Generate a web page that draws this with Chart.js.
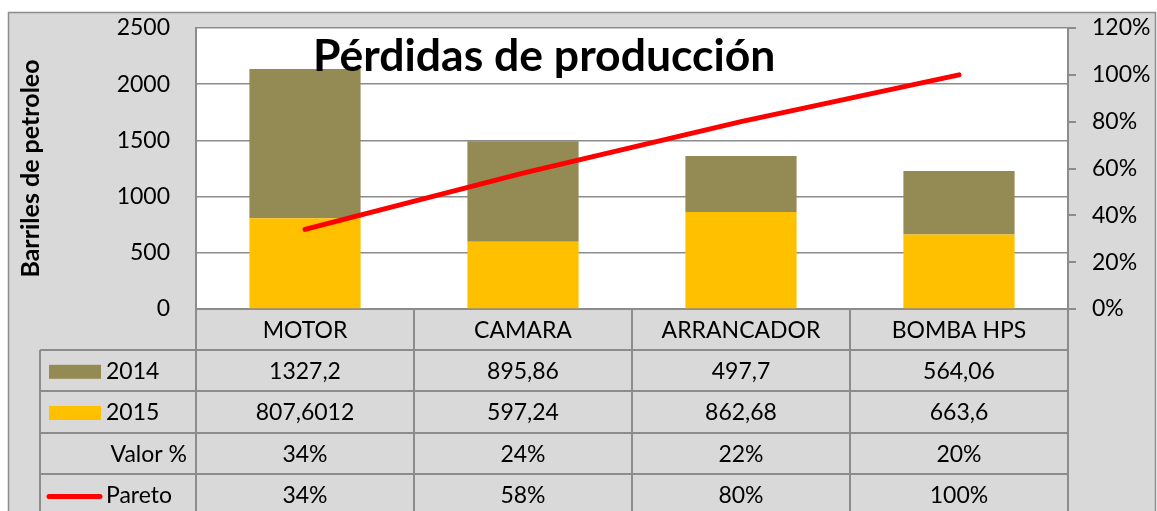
<!DOCTYPE html>
<html>
<head>
<meta charset="utf-8">
<script src="https://cdn.jsdelivr.net/npm/chart.js@4.4.1/dist/chart.umd.min.js"></script>
<style>
  html, body { margin: 0; padding: 0; background: #fff; }
  canvas { display: block; }
</style>
</head>
<body>
<canvas id="paretoChart" width="1157" height="511"></canvas>
<script>
const categorias = ['MOTOR', 'CAMARA', 'ARRANCADOR', 'BOMBA HPS'];
const perdidas2014 = [1327.2, 895.86, 497.7, 564.06];
const perdidas2015 = [807.6012, 597.24, 862.68, 663.6];
const valorPct = [34, 24, 22, 20];
const pareto = [34, 58, 80, 100];

const GRIS = '#8C8C8C';
const FUENTE = 'Lato, "Liberation Sans", sans-serif';

function coma(v) {
    return String(v).replace('.', ',');
}

const tablaPlugin = {
    id: 'tabla',
    beforeDraw(chart) {
        const { ctx, chartArea: a } = chart;
        ctx.save();
        ctx.fillStyle = '#fff';
        ctx.fillRect(0, 0, chart.width, chart.height);
        ctx.fillStyle = '#D9D9D9';
        ctx.fillRect(8, 12, 1148, 520);
        ctx.strokeStyle = GRIS;
        ctx.lineWidth = 1.5;
        ctx.strokeRect(8.5, 12.5, 1147, 520);
        ctx.fillStyle = '#fff';
        ctx.fillRect(a.left, a.top, a.right - a.left, a.bottom - a.top);
        ctx.restore();
    },
    afterDraw(chart) {
        const { ctx, chartArea: a } = chart;
        const x = chart.scales.x;
        const paso = x.getPixelForValue(1) - x.getPixelForValue(0);
        const filaH = 41.2;
        const top = a.bottom;
        const izq = 40;
        ctx.save();

        // titulo
        ctx.fillStyle = '#000';
        ctx.font = 'bold 44.5px ' + FUENTE;
        ctx.textAlign = 'left';
        ctx.textBaseline = 'alphabetic';
        ctx.fillText('Pérdidas de producción', 313, 71);

        // lineas de la tabla
        ctx.strokeStyle = GRIS;
        ctx.lineWidth = 2;
        ctx.beginPath();
        for (let r = 1; r <= 4; r++) {
            const y = Math.round(top + r * filaH);
            ctx.moveTo(izq, y);
            ctx.lineTo(a.right, y);
        }
        ctx.moveTo(izq, Math.round(top + filaH));
        ctx.lineTo(izq, chart.height);
        for (let i = 0; i <= categorias.length; i++) {
            const xx = Math.round(x.getPixelForValue(0) - paso / 2 + i * paso);
            ctx.moveTo(xx, top);
            ctx.lineTo(xx, chart.height);
        }
        ctx.stroke();

        // textos
        const filas = [
            categorias,
            perdidas2014.map(coma),
            perdidas2015.map(coma),
            valorPct.map(v => v + '%'),
            pareto.map(v => v + '%')
        ];
        ctx.font = '23px ' + FUENTE;
        ctx.fillStyle = '#000';
        ctx.textBaseline = 'middle';
        ctx.textAlign = 'center';
        filas.forEach((fila, r) => {
            const yc = top + r * filaH + filaH / 2 + 1;
            fila.forEach((t, i) => {
                ctx.fillText(t, x.getPixelForValue(i), yc);
            });
        });

        // leyenda en la tabla
        const ds = chart.data.datasets;
        const yc = r => top + r * filaH + filaH / 2 + 1;
        ctx.textAlign = 'left';
        ctx.fillStyle = ds[2].backgroundColor;
        ctx.fillRect(49, yc(1) - 7, 52, 14);
        ctx.fillStyle = ds[1].backgroundColor;
        ctx.fillRect(49, yc(2) - 7, 52, 14);
        ctx.fillStyle = '#000';
        ctx.fillText(ds[2].label, 106, yc(1));
        ctx.fillText(ds[1].label, 106, yc(2));
        ctx.textAlign = 'right';
        ctx.fillText('Valor %', 187, yc(3));
        ctx.textAlign = 'left';
        ctx.fillText(ds[0].label, 106, yc(4));
        ctx.strokeStyle = ds[0].borderColor;
        ctx.lineWidth = 5;
        ctx.lineCap = 'round';
        ctx.beginPath();
        ctx.moveTo(49, yc(4) + 1);
        ctx.lineTo(100, yc(4) + 1);
        ctx.stroke();
        ctx.restore();
    }
};

new Chart(document.getElementById('paretoChart'), {
    data: {
        labels: categorias,
        datasets: [
            {
                type: 'line', label: 'Pareto', data: pareto, yAxisID: 'y1',
                borderColor: '#FF0000', borderWidth: 5, borderCapStyle: 'round',
                pointRadius: 0, fill: false, tension: 0
            },
            {
                type: 'bar', label: '2015', data: perdidas2015, yAxisID: 'y',
                backgroundColor: '#FFC000', stack: 'a',
                categoryPercentage: 1, barPercentage: 0.51
            },
            {
                type: 'bar', label: '2014', data: perdidas2014, yAxisID: 'y',
                backgroundColor: '#948A54', stack: 'a',
                categoryPercentage: 1, barPercentage: 0.51
            }
        ]
    },
    options: {
        responsive: false,
        animation: false,
        layout: { padding: { top: 28, bottom: 202, left: 0, right: 0 } },
        plugins: {
            legend: { display: false },
            tooltip: { enabled: false }
        },
        scales: {
            x: {
                stacked: true,
                grid: { display: false },
                ticks: { display: false },
                border: { display: true, color: GRIS, width: 2 },
                afterFit: s => { s.height = 0; }
            },
            y: {
                stacked: true,
                position: 'left',
                min: 0, max: 2500,
                ticks: { stepSize: 500, padding: 0, color: '#000',
                    font: { family: FUENTE, size: 23, lineHeight: 1 },
                    callback: v => String(v) },
                grid: { color: GRIS, lineWidth: 1.5, drawTicks: true, tickLength: 26,
                    tickColor: 'rgba(0,0,0,0)' },
                border: { display: true, color: GRIS, width: 2 },
                title: {
                    display: true, text: 'Barriles de petroleo', color: '#000',
                    font: { family: FUENTE, size: 25, weight: 'bold' },
                    padding: { top: 16, bottom: 0 }
                },
                afterFit: s => { s.width = 196; }
            },
            y1: {
                position: 'right',
                min: 0, max: 120,
                ticks: { stepSize: 20, padding: 16, color: '#000',
                    font: { family: FUENTE, size: 23, lineHeight: 1 },
                    callback: v => v + '%' },
                grid: { drawOnChartArea: false, color: GRIS, tickLength: 8, lineWidth: 2 },
                border: { display: true, color: GRIS, width: 2 },
                afterFit: s => { s.width = 89; }
            }
        }
    },
    plugins: [tablaPlugin]
});
</script>
</body>
</html>
